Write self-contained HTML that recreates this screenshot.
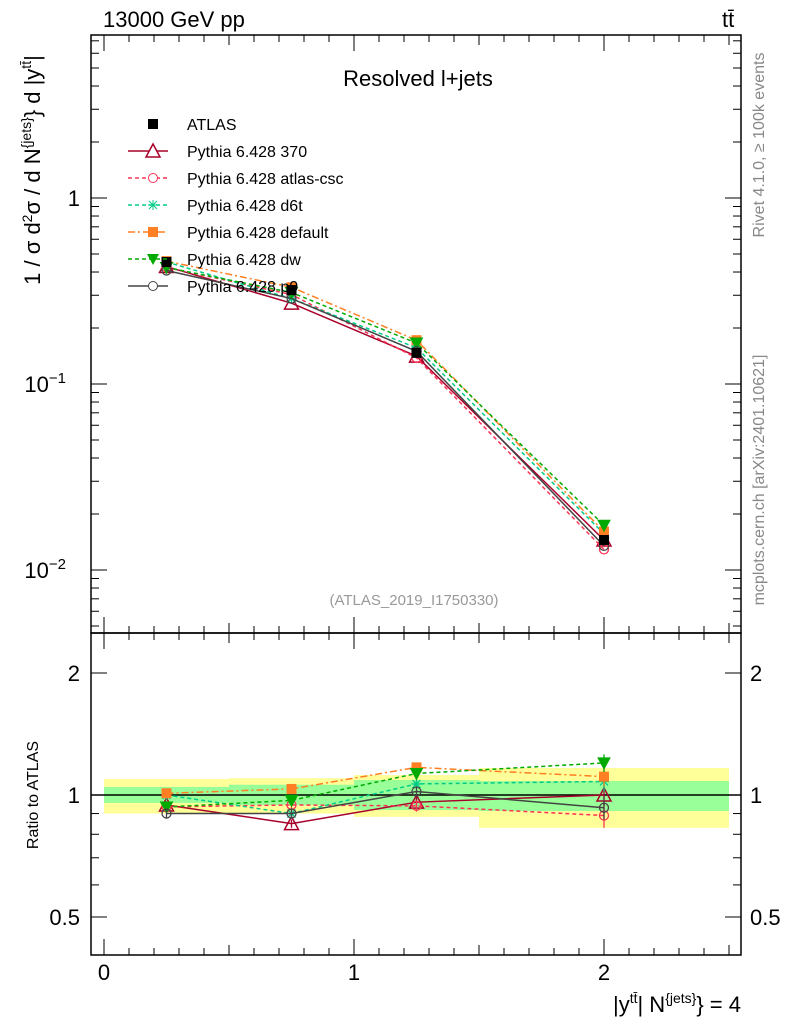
<!DOCTYPE html>
<html><head><meta charset="utf-8"><style>
html,body{margin:0;padding:0;background:#fff;}
svg{display:block;font-family:"Liberation Sans",sans-serif;}
</style></head><body>
<svg id="c" width="786" height="1024" viewBox="0 0 786 1024" xmlns="http://www.w3.org/2000/svg"></svg>
<script>
const binEdges=[0,0.5,1,1.5,2.5];
const xPoints=[0.25,0.75,1.25,2.0];
const atlasValues=[0.453,0.32,0.147,0.0145];
const yellowUp=[1.095,1.10,1.12,1.166];
const yellowDn=[0.90,0.90,0.883,0.83];
const greenUp=[1.047,1.06,1.089,1.083];
const greenDn=[0.956,0.945,0.918,0.913];
const seriesNames=["Pythia 6.428 370","Pythia 6.428 atlas-csc","Pythia 6.428 d6t","Pythia 6.428 default","Pythia 6.428 dw","Pythia 6.428 p0"];
const ratio370=[0.945,0.85,0.96,1.0];
const ratioCsc=[0.935,0.945,0.94,0.89];
const ratioD6t=[1.0,0.90,1.065,1.08];
const ratioDefault=[1.01,1.035,1.17,1.11];
const ratioDw=[0.934,0.97,1.13,1.2];
const ratioP0=[0.90,0.90,1.02,0.93];
const ratioErr=[0.02,0.02,0.03,0.06];

const NS="http://www.w3.org/2000/svg";
const svg=document.getElementById('c');
function el(tag,attrs,parent){const e=document.createElementNS(NS,tag);for(const k in attrs)e.setAttribute(k,attrs[k]);(parent||svg).appendChild(e);return e;}
const X0=91,X1=741,T=35,M=633,B=955;
function xs(v){return 104+v*250;}
function ym(v){return 198-Math.log10(v)*186;}
function yr(v){return 795-Math.log10(v)/0.30103*122;}

// bands
for(let i=0;i<4;i++){
  let r=el('rect',{x:xs(binEdges[i]),y:yr(yellowUp[i]),width:xs(binEdges[i+1])-xs(binEdges[i]),height:yr(yellowDn[i])-yr(yellowUp[i]),fill:'#ffff99'});
  
  
}
for(let i=0;i<4;i++){
  let r=el('rect',{x:xs(binEdges[i]),y:yr(greenUp[i]),width:xs(binEdges[i+1])-xs(binEdges[i]),height:yr(greenDn[i])-yr(greenUp[i]),fill:'#99ff99'});
  
  
}
el('line',{x1:X0,x2:X1,y1:795,y2:795,stroke:'#000','stroke-width':1.5});

const styles=[
 {c:'#a8002a',dash:'',m:'tri',fill:'none',r:ratio370},
 {c:'#ff3355',dash:'4,3',m:'circ',fill:'none',r:ratioCsc},
 {c:'#00cc88',dash:'4,3',m:'star',fill:'none',r:ratioD6t},
 {c:'#ff7f22',dash:'7,3,2,3',m:'sq',fill:'#ff7f22',r:ratioDefault},
 {c:'#00aa00',dash:'4,3',m:'dtri',fill:'#00aa00',r:ratioDw},
 {c:'#444444',dash:'',m:'circ',fill:'none',r:ratioP0}
];
function marker(g,t,x,y,c,f){
  if(t==='tri')el('polygon',{points:`${x},${y-7} ${x-7},${y+6} ${x+7},${y+6}`,fill:'#fff','fill-opacity':0,stroke:c,'stroke-width':1.5},g);
  else if(t==='dtri')el('polygon',{points:`${x-6},${y-5} ${x+6},${y-5} ${x},${y+6}`,fill:c,stroke:c},g);
  else if(t==='circ')el('circle',{cx:x,cy:y,r:4.5,fill:'none',stroke:c,'stroke-width':1.3},g);
  else if(t==='sq')el('rect',{x:x-5,y:y-5,width:10,height:10,fill:c},g);
  else if(t==='star'){el('path',{d:`M${x-5},${y}H${x+5}M${x},${y-5}V${y+5}M${x-4},${y-4}L${x+4},${y+4}M${x-4},${y+4}L${x+4},${y-4}`,stroke:c,'stroke-width':1.3},g);}
}
function drawSeries(s,idx,main){
  const g=el('g',{});
  
  
  const ys=s.r.map((r,i)=>main?ym(r*atlasValues[i]):yr(r));
  el('polyline',{points:xPoints.map((x,i)=>xs(x)+','+ys[i]).join(' '),fill:'none',stroke:s.c,'stroke-width':1.5,'stroke-dasharray':s.dash},g);
  xPoints.forEach((x,i)=>{
    if(!main){el('line',{x1:xs(x),x2:xs(x),y1:yr(s.r[i]+ratioErr[i]),y2:yr(s.r[i]-ratioErr[i]),stroke:s.c,'stroke-width':1.3},g);}
    marker(g,s.m,xs(x),ys[i],s.c,s.fill);
  });
}
styles.forEach((s,i)=>drawSeries(s,i,true));
styles.forEach((s,i)=>drawSeries(s,i,false));
// atlas points
xPoints.forEach((x,i)=>{
  const r=el('rect',{x:xs(x)-5,y:ym(atlasValues[i])-5,width:10,height:10,fill:'#000'});
  
  
});

// frames
el('rect',{x:X0,y:T,width:X1-X0,height:M-T,fill:'none',stroke:'#000','stroke-width':1.5});
el('rect',{x:X0,y:M,width:X1-X0,height:B-M,fill:'none',stroke:'#000','stroke-width':1.5});

// x ticks
for(let k=-0;k<=25;k++){
  const v=k/10,x=xs(v);if(x<X0||x>X1)continue;
  const big=k%10===0,mid=k%5===0;const L=big?16:(mid?10:7);
  for(const [y,d] of [[M,-1],[B,-1],[T,1],[M,1]]){el('line',{x1:x,x2:x,y1:y,y2:y+d*L,stroke:'#000'});}
}
[0,1,2].forEach(v=>{const t=el('text',{x:xs(v),y:980,'font-size':22,'text-anchor':'middle'});t.textContent=v;});
// main y ticks
for(let d=-3;d<=0;d++)for(let m=1;m<=9;m++){
  const v=m*Math.pow(10,d),y=ym(v);if(y<T||y>M)continue;const L=m===1?16:8;
  el('line',{x1:X0,x2:X0+L,y1:y,y2:y,stroke:'#000'});el('line',{x1:X1,x2:X1-L,y1:y,y2:y,stroke:'#000'});
}
const mt=[["1",1],["10",0.1,"−1"],["10",0.01,"−2"]];
mt.forEach(a=>{const t=el('text',{x:a[2]?66:80,y:ym(a[1])+8,'font-size':22,'text-anchor':'end'});t.textContent=a[0];
  if(a[2]){const s=el('tspan',{dy:-9,'font-size':15},t);s.textContent=a[2];}
  });
// ratio ticks
[0.4,0.5,0.6,0.7,0.8,0.9,1,2].forEach(v=>{const y=yr(v);if(y>B||y<M)return;const L=(v===1||v===2||v===0.5)?16:8;
  el('line',{x1:X0,x2:X0+L,y1:y,y2:y,stroke:'#000'});el('line',{x1:X1,x2:X1-L,y1:y,y2:y,stroke:'#000'});});
[["2",2],["1",1],["0.5",0.5]].forEach(a=>{
  let t=el('text',{x:80,y:yr(a[1])+8,'font-size':22,'text-anchor':'end'});t.textContent=a[0];
  t=el('text',{x:750,y:yr(a[1])+8,'font-size':22});t.textContent=a[0];
});
</script>
<svg width="786" height="1024" style="position:absolute;left:0;top:0" xmlns="http://www.w3.org/2000/svg" font-family="Liberation Sans, sans-serif">
<text x="103" y="27" font-size="22">13000 GeV pp</text>
<text x="722" y="27" font-size="22">tt<tspan dx="-6" dy="-2">̄</tspan></text>
<text x="418" y="86" font-size="22" text-anchor="middle">Resolved l+jets</text>
<text x="414" y="605" font-size="15" fill="#999" text-anchor="middle">(ATLAS_2019_I1750330)</text>
<text transform="translate(764,145) rotate(-90)" font-size="16" fill="#888" text-anchor="middle">Rivet 4.1.0, ≥ 100k events</text>
<text transform="translate(764,480) rotate(-90)" font-size="16" fill="#888" text-anchor="middle">mcplots.cern.ch [arXiv:2401.10621]</text>
<text transform="translate(40,170) rotate(-90)" font-size="22" text-anchor="middle">1 / σ d<tspan dy="-8" font-size="14">2</tspan><tspan dy="8">σ / d N</tspan><tspan dy="-9" font-size="14">{jets}</tspan><tspan dy="9">} d |y</tspan><tspan dy="-9" font-size="14">tt̄</tspan><tspan dy="9">|</tspan></text>
<text transform="translate(38,795) rotate(-90)" font-size="16" text-anchor="middle">Ratio to ATLAS</text>
<text x="741" y="1012" font-size="22" text-anchor="end">|y<tspan dy="-9" font-size="14">tt̄</tspan><tspan dy="9">| N</tspan><tspan dy="-9" font-size="14">{jets}</tspan><tspan dy="9">} = 4</tspan></text>
<g font-size="16">
 <rect x="148" y="119" width="10" height="10" fill="#000"/>
 <text x="187" y="130">ATLAS</text>
 <line x1="128" x2="168" y1="151" y2="151" stroke="#a8002a" stroke-width="1.5"/><polygon points="153,144 146,157 160,157" fill="#fff" stroke="#a8002a" stroke-width="1.5"/>
 <text x="187" y="157">Pythia 6.428 370</text>
 <line x1="128" x2="168" y1="178" y2="178" stroke="#ff3355" stroke-width="1.5" stroke-dasharray="4,3"/><circle cx="153" cy="178" r="4.5" fill="#fff" stroke="#ff3355"/>
 <text x="187" y="184">Pythia 6.428 atlas-csc</text>
 <line x1="128" x2="168" y1="205" y2="205" stroke="#00cc88" stroke-width="1.5" stroke-dasharray="4,3"/><path d="M148,205H158M153,200V210M149,201L157,209M149,209L157,201" stroke="#00cc88"/>
 <text x="187" y="211">Pythia 6.428 d6t</text>
 <line x1="128" x2="168" y1="232" y2="232" stroke="#ff7f22" stroke-width="1.5" stroke-dasharray="7,3,2,3"/><rect x="148" y="227" width="10" height="10" fill="#ff7f22"/>
 <text x="187" y="238">Pythia 6.428 default</text>
 <line x1="128" x2="168" y1="259" y2="259" stroke="#00aa00" stroke-width="1.5" stroke-dasharray="4,3"/><polygon points="147,254 159,254 153,265" fill="#00aa00"/>
 <text x="187" y="265">Pythia 6.428 dw</text>
 <line x1="128" x2="168" y1="286" y2="286" stroke="#444" stroke-width="1.5"/><circle cx="153" cy="286" r="4.5" fill="#fff" stroke="#444"/>
 <text x="187" y="292">Pythia 6.428 p0</text>
</g>
</svg>
</body></html>
